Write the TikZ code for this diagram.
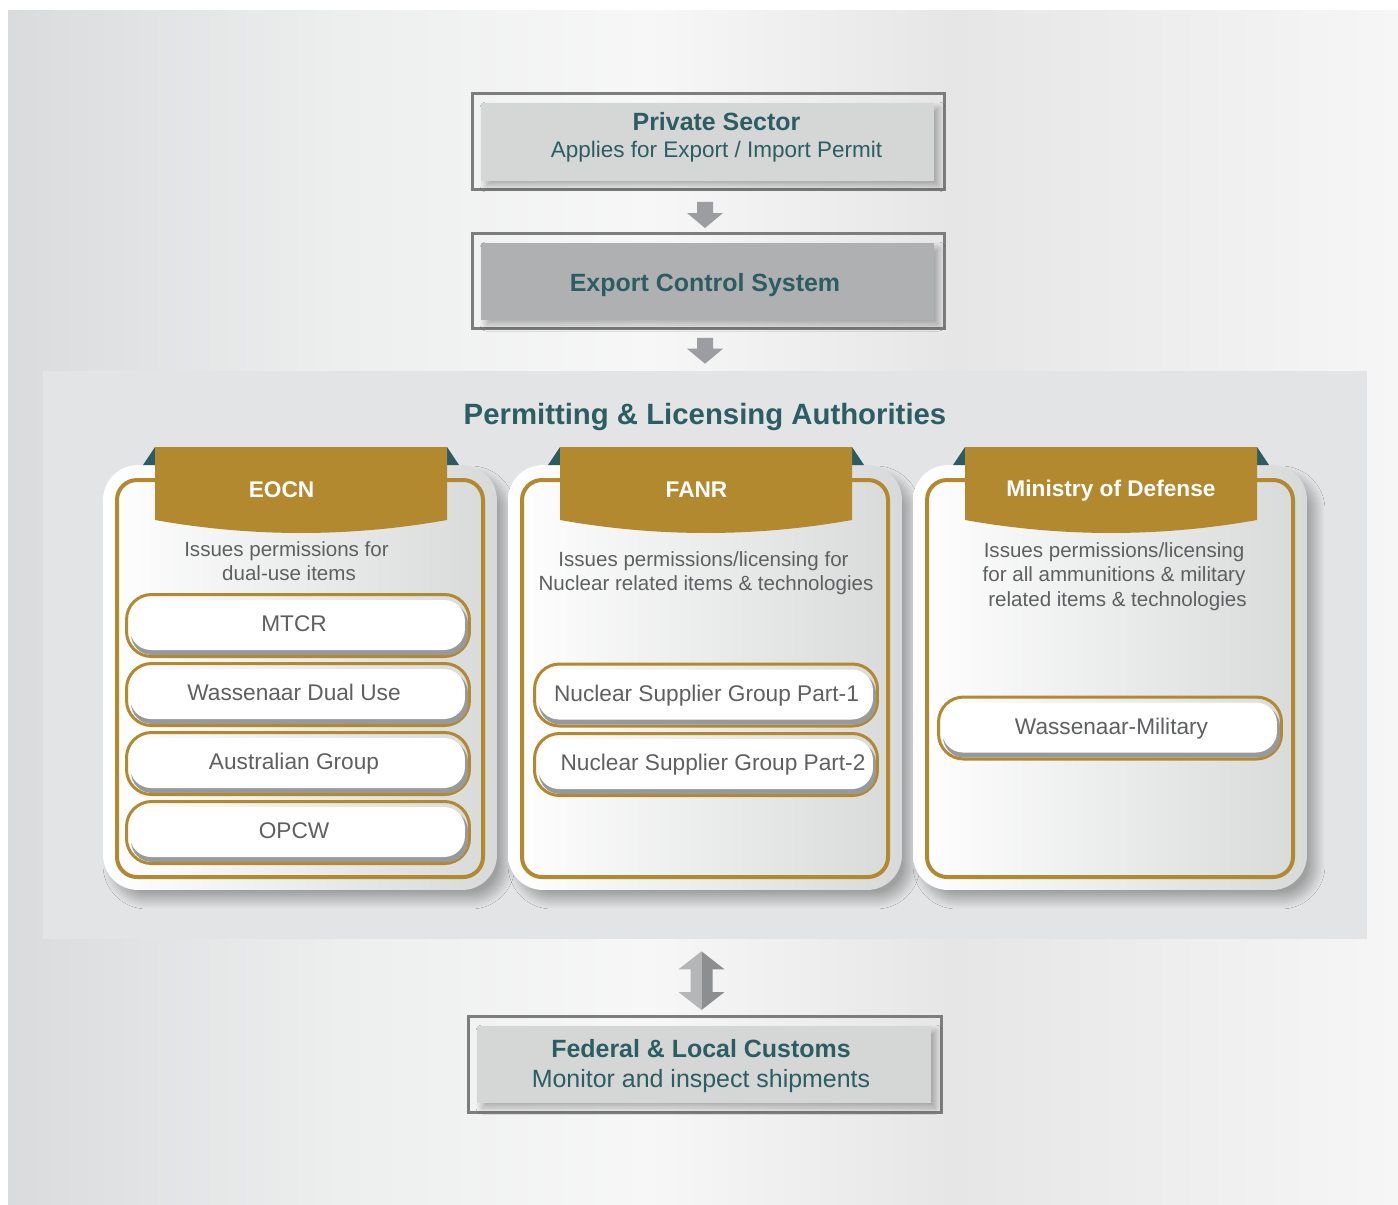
\documentclass[tikz,border=0pt]{standalone}
\usepackage{fontspec}
\setmainfont{Liberation Sans}
\usetikzlibrary{calc,shadows.blur}

\definecolor{tealtxt}{RGB}{44,93,98}
\definecolor{tealfold}{RGB}{44,92,97}
\definecolor{goldband}{RGB}{179,137,48}
\definecolor{graytxt}{RGB}{94,95,97}
\definecolor{framegray}{RGB}{124,125,127}
\definecolor{lightfill}{RGB}{213,214,214}
\definecolor{darkfill}{RGB}{175,176,177}
\definecolor{panelgray}{RGB}{227,228,229}
\definecolor{cardgray}{RGB}{216,217,217}
\definecolor{bandgray}{RGB}{152,153,155}
\definecolor{arrowgray}{RGB}{156,157,160}
\definecolor{arrowlight}{RGB}{181,182,183}
\definecolor{arrowdark}{RGB}{141,142,144}
\definecolor{bgA}{RGB}{218,219,220}
\definecolor{bgB}{RGB}{237,238,238}
\definecolor{bgC}{RGB}{247,247,247}
\definecolor{bgD}{RGB}{230,230,231}
\definecolor{bgE}{RGB}{246,246,246}

\pgfdeclarehorizontalshading{bgshade}{100bp}{color(0bp)=(bgA); color(25bp)=(bgA); color(37bp)=(bgB); color(48bp)=(bgC); color(59bp)=(bgD); color(75bp)=(bgE); color(100bp)=(bgE)}

\tikzset{
	boxframe/.style={draw=framegray, line width=0.06cm, minimum width=9.44cm, minimum height=1.92cm, inner sep=0pt},
	boxlight/.style={fill=lightfill, blur shadow={shadow xshift=0.1cm, shadow yshift=-0.1cm, shadow blur radius=0.12cm, shadow blur steps=12, shadow opacity=30}},
	boxdark/.style={fill=darkfill, blur shadow={shadow xshift=0.1cm, shadow yshift=-0.1cm, shadow blur radius=0.12cm, shadow blur steps=12, shadow opacity=30}},
	boxhead/.style={text=tealtxt, font=\bfseries\fontsize{14.2}{17}\selectfont, anchor=base, inner sep=0pt},
	boxsub/.style={text=tealtxt, font=\fontsize{12.8}{15}\selectfont, anchor=base, inner sep=0pt},
	authpanel/.style={fill=panelgray, minimum width=26.48cm, minimum height=11.36cm, inner sep=0pt},
	paneltitle/.style={text=tealtxt, font=\bfseries\fontsize{16.7}{20}\selectfont, anchor=base, inner sep=0pt},
	authcard/.style={minimum width=7.88cm, minimum height=8.5cm, rounded corners=0.7cm, left color=white, right color=cardgray, blur shadow={shadow xshift=0.18cm, shadow yshift=-0.2cm, shadow blur radius=0.18cm, shadow blur steps=20, shadow opacity=30}},
	goldrim/.style={draw=goldband, line width=0.08cm, rounded corners=0.4cm},
	tabtitle/.style={text=white, font=\bfseries\fontsize{12.9}{15}\selectfont, anchor=base, inner sep=0pt},
	desctext/.style={text=graytxt, font=\fontsize{11.7}{14}\selectfont, anchor=base, inner sep=0pt},
	itemrim/.style={draw=goldband, line width=0.06cm, rounded corners=0.5cm, minimum width=6.86cm, minimum height=1.24cm, inner sep=0pt},
	itemband/.style={fill=bandgray, rounded corners=0.42cm},
	itemface/.style={fill=white, rounded corners=0.42cm},
	itemtext/.style={text=graytxt, font=\fontsize{12.9}{15}\selectfont, anchor=base, inner sep=0pt}
}

% card with rim, folds and tab, shifted by #1
\def\cardbase(#1)[#2]{%
	\begin{scope}[shift={(#1,0)}]
		\node[authcard] (#2) at (300,677.5) {};
		\draw[goldrim] (117,480) rectangle (483,877);
		\fill[tealfold] (143,465) -- (155,447) -- (155,465) -- cycle;
		\fill[tealfold] (447,447) -- (459,465) -- (447,465) -- cycle;
		\fill[goldband] (155,447) -- (447,447) -- (447,520) .. controls (349.7,537.3) and (252.3,537.3) .. (155,520) -- cycle;
	\end{scope}}
\def\itembox(#1,#2)[#3][#4]#5{%
	\node[itemrim] (#3) at (#1,#2) {};
	\fill[itemband] ($(#3.north west)+(6,10)$) rectangle ($(#3.south east)+(-3,-3)$);
	\fill[itemface] ($(#3.north west)+(5,7)$) rectangle ($(#3.south east)+(-6,-8)$);
	\node[itemtext] (#3-t) at ($(#3.center)+(#4,6)$) {#5};}
\def\blkarrow(#1)(#2){\fill[arrowgray] ($(#1)+(-8,0)$) -- ($(#1)+(8,0)$) -- ($(#2)+(8,-15)$) -- ($(#2)+(18,-15)$) -- (#2) -- ($(#2)+(-18,-15)$) -- ($(#2)+(-8,-15)$) -- cycle;}
\def\dblarrow(#1)(#2){%
	\fill[arrowlight] (#1) -- ($(#1)+(-23,18)$) -- ($(#1)+(-11,18)$) -- ($(#2)+(-11,-18)$) -- ($(#2)+(-23,-18)$) -- (#2) -- cycle;
	\fill[arrowdark] (#1) -- ($(#1)+(23,18)$) -- ($(#1)+(11,18)$) -- ($(#2)+(11,-18)$) -- ($(#2)+(23,-18)$) -- (#2) -- cycle;}

\begin{document}
\begin{tikzpicture}[x=0.02cm, y=-0.02cm]
			%%%%% START %%%%%
			
			\useasboundingbox (0,0) rectangle (1398,1204);
			\fill[white] (0,0) rectangle (1398,1204);
			\shade[shading=bgshade] (8,10) rectangle (1398,1204);
			
			\node[boxframe] (ps) at (708.5,141.5) {};
			\fill[boxlight] ($(ps.north west)+(10,11)$) rectangle ($(ps.south east)+(-12,-10)$);
			\node[boxhead] (ps-a) at (716.5,130) {Private Sector};
			\node[boxsub] (ps-b) at (716.5,157.3) {Applies for Export / Import Permit};
			
			\node[boxframe, minimum height=1.9cm] (ecs) at (708.5,281) {};
			\fill[boxdark] ($(ecs.north west)+(10,11)$) rectangle ($(ecs.south east)+(-12,-10)$);
			\node[boxhead] (ecs-a) at (705,291) {Export Control System};
			
			\node[authpanel] (auth) at (705,655) {};
			\node[paneltitle] (auth-t) at (705,424.5) {Permitting \& Licensing Authorities};
			
			\coordinate (arr1-top) at ($(ps.south)+(-3.5,11)$);
			\coordinate (arr1-tip) at ($(ecs.north)+(-3.5,-4)$);
			\blkarrow(arr1-top)(arr1-tip)
			\coordinate (arr2-top) at ($(ecs.south)+(-3.5,8)$);
			\coordinate (arr2-tip) at ($(auth.north)+(0,-7)$);
			\blkarrow(arr2-top)(arr2-tip)
			
			\cardbase(0)[eocn]
			\cardbase(405)[fanr]
			\cardbase(810)[mod]
			
			\node[tabtitle] (eocn-t) at (281.5,497.5) {EOCN};
			\node[tabtitle] (fanr-t) at (696.5,497.5) {FANR};
			\node[tabtitle] (mod-t) at (1111,496) {Ministry of Defense};
			
			\node[desctext] (eocn-d1) at (286.5,556.5) {Issues permissions for};
			\node[desctext] (eocn-d2) at (289,580.5) {dual-use items};
			\node[desctext] (fanr-d1) at (703.5,566.5) {Issues permissions/licensing for};
			\node[desctext] (fanr-d2) at (706,590.7) {Nuclear related items \& technologies};
			\node[desctext] (mod-d1) at (1114,557) {Issues permissions/licensing};
			\node[desctext] (mod-d2) at (1114,581.5) {for all ammunitions \& military};
			\node[desctext] (mod-d3) at (1117.5,606) {related items \& technologies};
			
			\itembox(298,625.5)[mtcr][-4]{MTCR}
			\itembox(298,694.5)[wdu][-4]{Wassenaar Dual Use}
			\itembox(298,763.5)[ag][-4]{Australian Group}
			\itembox(298,832.5)[opcw][-4]{OPCW}
			\itembox(706,695)[nsg1][0.5]{Nuclear Supplier Group Part-1}
			\itembox(706,764.5)[nsg2][7]{Nuclear Supplier Group Part-2}
			\itembox(1110,728)[wm][1.5]{Wassenaar-Military}
			
			\node[boxframe, minimum width=9.46cm] (cust) at (705,1064.5) {};
			\fill[boxlight] ($(cust.north west)+(10,11)$) rectangle ($(cust.south east)+(-12,-11)$);
			\node[boxhead] (cust-a) at (701,1057.7) {Federal \& Local Customs};
			\node[boxsub, font=\fontsize{14.2}{17}\selectfont] (cust-b) at (701,1087.7) {Monitor and inspect shipments};
			
			\coordinate (arr3-top) at ($(auth.south)+(-3.5,12)$);
			\coordinate (arr3-tip) at ($(cust.north)+(-3.5,-5)$);
			\dblarrow(arr3-top)(arr3-tip)
			
			%%%%% END %%%%%
\end{tikzpicture}
\end{document}
